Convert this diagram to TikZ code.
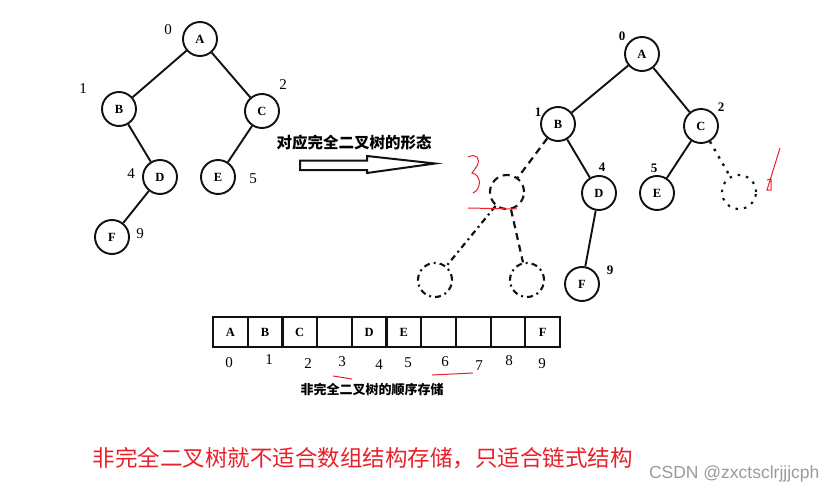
\documentclass[tikz,border=0pt]{standalone}
\usepackage{fontspec}
\setmainfont{Liberation Serif}
\setsansfont{Liberation Sans}
\newfontfamily\cjk{Noto Sans CJK SC}
\usetikzlibrary{positioning,calc}
\definecolor{ink}{HTML}{111111}
\definecolor{redpen}{HTML}{E8202A}
\definecolor{wmgray}{HTML}{9A9A9A}
\newcommand{\cw}{34.7}

\begin{document}
\begin{tikzpicture}[x=1pt, y=-1pt,
  vtx/.style={circle, draw=ink, line width=1.9pt, minimum size=34pt, inner sep=0pt,
              font=\fontsize{12.5}{12.5}\selectfont\bfseries},
  ghost/.style={circle, draw=ink, line width=2.1pt, minimum size=34pt, inner sep=0pt},
  edge/.style={draw=ink, line width=1.9pt},
  num/.style={font=\fontsize{15}{15}\selectfont},
  numsm/.style={font=\fontsize{13}{13}\selectfont\bfseries},
  cell/.style={draw=ink, line width=2.2pt, minimum width=\cw pt, minimum height=30pt,
               inner sep=0pt, font=\fontsize{12.5}{12.5}\selectfont\bfseries},
  longdash/.style={dash pattern=on 7pt off 5pt},
  dotdash/.style={dash pattern=on 6pt off 4pt on 2pt off 4pt},
  sparsedot/.style={dash pattern=on 2.5pt off 6pt},
  pen/.style={draw=redpen, line width=1pt},
]
\useasboundingbox (0,0) rectangle (836,495);

% ---- Left tree: the non-complete binary tree ---------------------------------
\begin{scope}
  \node[vtx] (la) at (200,39)  {A};
  \node[vtx] (lb) at (119,109) {B};
  \node[vtx] (lc) at (262,111) {C};
  \node[vtx] (ld) at (160,177) {D};
  \node[vtx] (le) at (218,177) {E};
  \node[vtx] (lf) at (112,237) {F};

  \draw[edge] (la) -- (lb);
  \draw[edge] (la) -- (lc);
  \draw[edge] (lb) -- (ld);
  \draw[edge] (lc) -- (le);
  \draw[edge] (ld) -- (lf);

  % positions in the array
  \node[num] (la-i) at (168,30)  {0};
  \node[num] (lb-i) at (83,89)   {1};
  \node[num] (lc-i) at (283,85)  {2};
  \node[num] (ld-i) at (131,174) {4};
  \node[num] (le-i) at (253,179) {5};
  \node[num] (lf-i) at (140,234) {9};
\end{scope}

% ---- Hollow arrow with its caption -------------------------------------------
\node[font=\cjk\fontsize{15.5}{16}\selectfont\bfseries] (turn) at (354,143) {对应完全二叉树的形态};
\draw[ink, line width=2pt, line join=miter]
  (300,160.5) -- (367,160.5) -- (367,156) -- (435,163.5) -- (367,173) -- (367,170)
  -- (300,170) -- cycle;

% ---- Right tree: filled up to a complete binary tree -------------------------
\begin{scope}
  \node[vtx] (ra) at (642,54)  {A};
  \node[vtx] (rb) at (558,124) {B};
  \node[vtx] (rc) at (701,126) {C};
  \node[vtx] (rd) at (599,193) {D};
  \node[vtx] (re) at (657,193) {E};
  \node[vtx] (rf) at (582,284) {F};

  % missing positions
  \node[ghost, longdash]  (g3) at (507,192) {};
  \node[ghost, sparsedot] (g6) at (739,192) {};
  \node[ghost, dotdash]   (g7) at (435,280) {};
  \node[ghost, dotdash]   (g8) at (527,280) {};

  \draw[edge] (ra) -- (rb);
  \draw[edge] (ra) -- (rc);
  \draw[edge] (rb) -- (rd);
  \draw[edge] (rc) -- (re);
  \draw[edge] (rd) -- (rf);
  \draw[edge, longdash, line width=2.2pt]  (rb) -- (g3);
  \draw[edge, sparsedot, line width=2.4pt] (rc) -- (g6);
  \draw[edge, dotdash, line width=2.2pt]   (g3) -- (g7);
  \draw[edge, longdash, line width=2.2pt]  (g3) -- (g8);

  \node[numsm] (ra-i) at (622,36)  {0};
  \node[numsm] (rb-i) at (538,112) {1};
  \node[numsm] (rc-i) at (721,107) {2};
  \node[numsm] (rd-i) at (602,167) {4};
  \node[numsm] (re-i) at (654,168) {5};
  \node[numsm] (rf-i) at (610,270) {9};
\end{scope}

% ---- Sequential storage array ------------------------------------------------
\foreach \i/\t in {0/A,1/B,2/C,3/,4/D,5/E,6/,7/,8/,9/F}
  \node[cell] (c\i) at ({213+\cw*(\i+0.5)},332) {\t};
\foreach \i/\x/\y in {0/229/363,1/269/360,2/308/364,3/342/362,4/379/365,
                      5/408/363,6/445/362,7/479/366,8/509/361,9/542/364}
  \node[num] (c\i-i) at (\x,\y) {\i};
\node[font=\cjk\fontsize{13}{13}\selectfont\bfseries] (store) at (372,390) {非完全二叉树的顺序存储};

% ---- Red pen notes ----------------------------------------------------------
\draw[pen] (468,157) .. controls (476,153) and (481,158) .. (477,166)
  .. controls (475,170) .. (472,173) .. controls (481,175) and (481,186) .. (476,191)
  -- (473,193);
\draw[pen] (468,208) -- (517,209);
\draw[pen] (780,148) -- (767,190) -- (771,190) -- (771,179) -- (767,180);
\draw[pen] (333,376) -- (352,379);
\draw[pen] (432,375) -- (473,373);

\node[anchor=west, text=redpen, font=\cjk\fontsize{22.5}{24}\selectfont] (note) at (89,458)
  {非完全二叉树就不适合数组结构存储，只适合链式结构};
\node[anchor=east, text=wmgray, font=\sffamily\fontsize{17.5}{17.5}\selectfont] (wm) at (823,474)
  {CSDN @zxctsclrjjjcph};
\end{tikzpicture}
\end{document}
